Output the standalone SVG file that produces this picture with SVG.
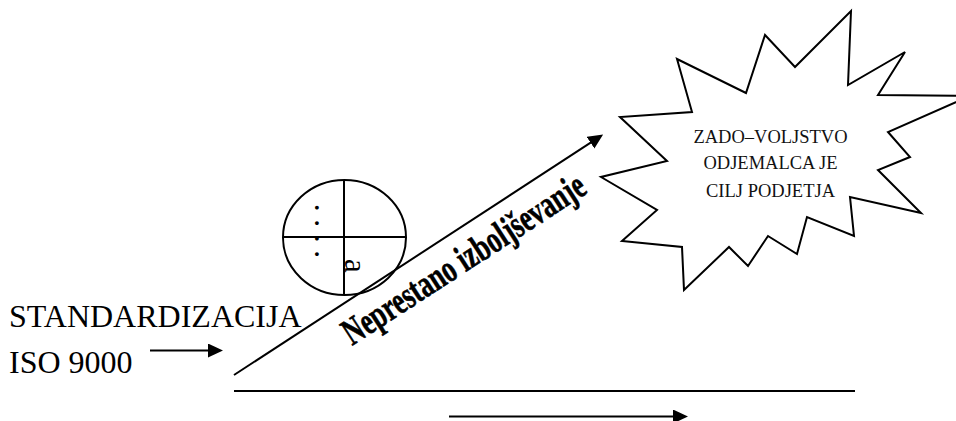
<svg xmlns="http://www.w3.org/2000/svg" width="956" height="421" viewBox="0 0 956 421">
<style>
.ln{fill:none;stroke:#000;stroke-width:2}
.serif{font-family:"Liberation Serif","Times New Roman",serif;fill:#000}
.big{font-size:32px}
.star{font-size:18.5px;text-anchor:middle;fill:#111}
.slant{font-size:38px;font-weight:bold;stroke:#000;stroke-width:0.6}
</style>
<defs>
<marker id="ah" viewBox="0 0 15 14" refX="1" refY="7" markerWidth="15" markerHeight="14" markerUnits="userSpaceOnUse" orient="auto">
<path d="M0,0 L15,7 L0,14 Z" fill="#000"/>
</marker>
</defs>
<rect width="956" height="421" fill="#fff"/>
<g id="standardizacija">
<text class="serif big" x="9" y="327">STANDARDIZACIJA</text>
<text class="serif big" x="9" y="373">ISO 9000</text>
</g>
<g id="circle">
<ellipse class="ln" cx="344.5" cy="237.5" rx="61.5" ry="57.5"/>
<line class="ln" x1="344" y1="180" x2="344" y2="295"/>
<line class="ln" x1="283" y1="237" x2="406" y2="237"/>
<text class="serif" font-size="31" x="315" y="203.8" transform="rotate(90 315 203.8)">. . . .</text>
<text class="serif" font-size="31" x="345" y="259" transform="rotate(90 345 259)">a</text>
</g>
<g id="goal">
<polygon class="ln" points="851,11 848,85 905,52 878,95 970,96 888,132 910,157 878,170 921,213 850,197 854,236 807,217 797,254 768,236 748,266 729,247 684,290 682,247 622,241 657,210 601,177 667,161 620,117 692,112 677,59 746,93 765,35 795,67"/>
<text class="serif star" x="770.5" y="142.7">ZADO–VOLJSTVO</text>
<text class="serif star" x="770.5" y="169">ODJEMALCA JE</text>
<text class="serif star" x="770.5" y="196.7">CILJ PODJETJA</text>
</g>
<g id="label">
<text class="serif slant" x="352" y="346" textLength="282" lengthAdjust="spacingAndGlyphs" transform="rotate(-33 352 346)">Neprestano izboljševanje</text>
</g>
<g id="connectors">
<line class="ln" x1="150" y1="350.5" x2="209" y2="350.5" marker-end="url(#ah)"/>
<line class="ln" stroke-width="2.3" x1="234" y1="375" x2="591.4" y2="142.2" marker-end="url(#ah)"/>
<line class="ln" x1="234" y1="391" x2="855" y2="391"/>
<line class="ln" x1="449" y1="416.5" x2="674" y2="416.5" marker-end="url(#ah)"/>
</g>
</svg>
